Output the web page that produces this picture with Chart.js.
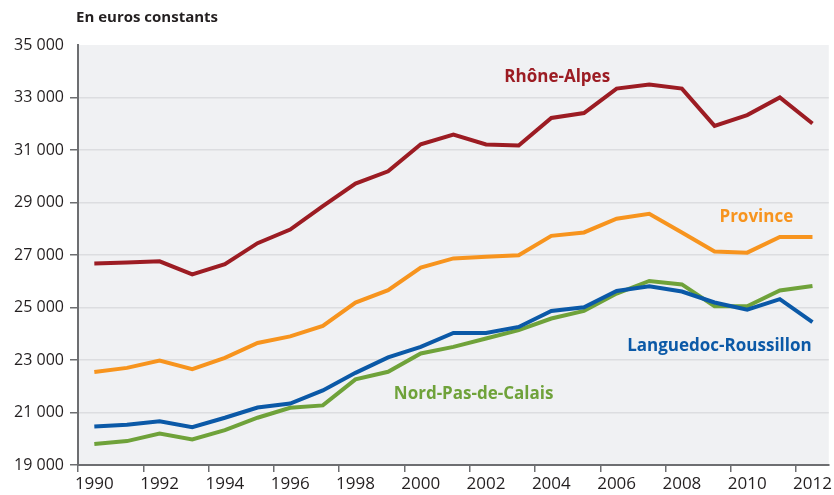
<!DOCTYPE html>
<html>
<head>
<meta charset="utf-8">
<script src="https://cdn.jsdelivr.net/npm/chart.js@4/dist/chart.umd.min.js"></script>
<style>
html,body{margin:0;padding:0;background:#fff;}
#wrap{position:relative;width:834px;height:495px;}
</style>
</head>
<body>
<div id="wrap"><canvas id="c" width="834" height="495"></canvas></div>
<script>
const years = ["1990","1991","1992","1993","1994","1995","1996","1997","1998","1999","2000","2001","2002","2003","2004","2005","2006","2007","2008","2009","2010","2011","2012"];
const rhoneAlpes = [26680,26710,26760,26260,26650,27450,27970,28860,29720,30190,31220,31590,31210,31170,32220,32410,33340,33490,33340,31920,32330,33000,32010];
const province = [22540,22700,22980,22650,23080,23650,23900,24300,25190,25660,26520,26870,26930,26990,27730,27860,28380,28570,27860,27130,27090,27690,27690];
const languedoc = [20470,20530,20670,20440,20800,21190,21340,21840,22510,23100,23500,24030,24030,24260,24870,25010,25630,25810,25610,25190,24920,25320,24440];
const nordPdC = [19800,19910,20200,19970,20330,20800,21180,21270,22260,22550,23250,23500,23820,24140,24580,24870,25530,26010,25880,25050,25050,25650,25820];
const seriesNames = ["Rhône-Alpes","Province","Languedoc-Roussillon","Nord-Pas-de-Calais"];
const yTicks = [19000,21000,23000,25000,27000,29000,31000,33000,35000];

const colors = ["#9c1c23","#f7941e","#0b59a7","#6fa23a"];
const labelPos = [
  {x:14.18, y:33790},
  {x:20.28, y:28450},
  {x:19.15, y:23530},
  {x:11.62, y:21690}
];

const bgPlugin = {
  id:'bg',
  beforeDraw(chart){
    const {ctx, chartArea:a} = chart;
    ctx.save();
    ctx.fillStyle = '#f0f1f3';
    ctx.fillRect(a.left, a.top, a.right-a.left, a.bottom-a.top);
    ctx.restore();
  },
  afterDraw(chart){
    const ctx = chart.ctx;
    ctx.save();
    ctx.fillStyle = '#231f20';
    ctx.font = 'bold 15px "Open Sans"';
    ctx.textBaseline = 'middle';
    ctx.textAlign = 'left';
    ctx.fillText('En euros constants', 76, 18);
    const xs = chart.scales.x, ys = chart.scales.y;
    ctx.font = 'bold 17px "Open Sans"';
    ctx.textAlign = 'center';
    seriesNames.forEach((n,i)=>{
      const p = labelPos[i];
      const px = xs.getPixelForValue(0) + p.x*(xs.getPixelForValue(1)-xs.getPixelForValue(0));
      ctx.fillStyle = colors[i];
      ctx.fillText(n, px, ys.getPixelForValue(p.y));
    });
    ctx.restore();
  }
};

const ds = [rhoneAlpes, province, languedoc, nordPdC].map((d,i)=>({
  label: seriesNames[i], data: d, borderColor: colors[i], backgroundColor: colors[i],
  borderWidth: 4, pointRadius: 0, tension: 0, fill: false, borderJoinStyle:'miter'
}));

new Chart(document.getElementById('c'), {
  type:'line',
  data:{labels: years, datasets: ds},
  options:{
    responsive:false, animation:false, devicePixelRatio:1,
    layout:{padding:{left:0, right:4, top:45, bottom:0}},
    plugins:{legend:{display:false}, tooltip:{enabled:false}, title:{display:false}},
    scales:{
      x:{
        type:'category', offset:true,
        grid:{offset:true, drawOnChartArea:false, tickLength:7,
          color:(c)=> (c.index % 2 === 0 && c.index < 23) ? '#6d6e71' : 'rgba(0,0,0,0)', lineWidth:1.5},
        border:{display:true, color:'#6d6e71', width:2},
        ticks:{autoSkip:false, maxRotation:0, padding:2, color:'#231f20',
          font:{family:'"Open Sans"', size:17},
          callback:function(v,i){ return i % 2 === 0 ? years[i] : ''; }},
        afterFit(s){ s.height = 30; }
      },
      y:{
        min:19000, max:35000,
        afterBuildTicks(s){ s.ticks = yTicks.map(v=>({value:v})); },
        grid:{drawOnChartArea:true, tickLength:8, lineWidth:1.5,
          color:(c)=> (c.tick && c.tick.value===35000) ? 'rgba(0,0,0,0)' : '#dcdde0',
          tickColor:(c)=> (c.tick && c.tick.value===35000) ? 'rgba(0,0,0,0)' : '#6d6e71'},
        border:{display:true, color:'#6d6e71', width:2},
        ticks:{padding:6, color:'#231f20', font:{family:'"Open Sans"', size:16},
          callback:(v)=> String(v).replace(/\B(?=(\d{3})+(?!\d))/g,' ')},
        afterFit(s){ s.width = 78; }
      }
    }
  },
  plugins:[bgPlugin]
});
</script>
</body>
</html>
